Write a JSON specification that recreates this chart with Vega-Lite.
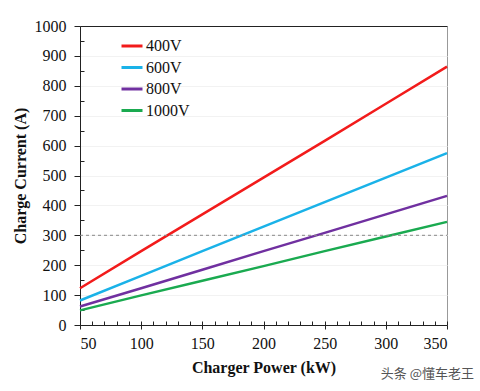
{
  "$schema": "https://vega.github.io/schema/vega-lite/v6.json",
  "width": 367,
  "height": 299,
  "autosize": {"type": "none"},
  "padding": {"left": 80, "top": 26, "right": 33, "bottom": 66},
  "background": "white",
  "config": {"view": {"stroke": "#999", "strokeWidth": 1}, "font": "Liberation Serif", "axis": {"labelFont": "Liberation Serif", "titleFont": "Liberation Serif"}, "legend": {"labelFont": "Liberation Serif"}},
  "title": {"text": "头条 @懂车老王", "orient": "bottom", "anchor": "end", "font": "Noto Sans CJK SC", "fontSize": 13, "fontWeight": "normal", "color": "#555", "dx": 22, "dy": -11},
  "datasets": {
    "lines": [
      {"power": 50, "current": 123, "voltage": "400V"},
      {"power": 100, "current": 247, "voltage": "400V"},
      {"power": 150, "current": 370, "voltage": "400V"},
      {"power": 200, "current": 493, "voltage": "400V"},
      {"power": 250, "current": 616, "voltage": "400V"},
      {"power": 300, "current": 740, "voltage": "400V"},
      {"power": 350, "current": 864, "voltage": "400V"},
      {"power": 50, "current": 82, "voltage": "600V"},
      {"power": 100, "current": 164, "voltage": "600V"},
      {"power": 150, "current": 247, "voltage": "600V"},
      {"power": 200, "current": 329, "voltage": "600V"},
      {"power": 250, "current": 411, "voltage": "600V"},
      {"power": 300, "current": 493, "voltage": "600V"},
      {"power": 350, "current": 575, "voltage": "600V"},
      {"power": 50, "current": 62, "voltage": "800V"},
      {"power": 100, "current": 123, "voltage": "800V"},
      {"power": 150, "current": 185, "voltage": "800V"},
      {"power": 200, "current": 247, "voltage": "800V"},
      {"power": 250, "current": 308, "voltage": "800V"},
      {"power": 300, "current": 370, "voltage": "800V"},
      {"power": 350, "current": 432, "voltage": "800V"},
      {"power": 50, "current": 49, "voltage": "1000V"},
      {"power": 100, "current": 99, "voltage": "1000V"},
      {"power": 150, "current": 148, "voltage": "1000V"},
      {"power": 200, "current": 197, "voltage": "1000V"},
      {"power": 250, "current": 247, "voltage": "1000V"},
      {"power": 300, "current": 296, "voltage": "1000V"},
      {"power": 350, "current": 345, "voltage": "1000V"}
    ],
    "ref": [{"p0": 50, "p1": 350, "a": 300}]
  },
  "layer": [
    {
      "data": {"name": "lines"},
      "mark": {"type": "line", "strokeWidth": 2.5},
      "encoding": {
        "x": {
          "field": "power", "type": "quantitative",
          "scale": {"domain": [50, 350], "nice": false, "zero": false},
          "axis": {"orient": "bottom", "values": [50, 100, 150, 200, 250, 300, 350], "format": "d", "tickSize": 4, "labelPadding": 6, "labelFont": "Liberation Serif", "labelFontSize": 16, "labelColor": "#111", "domainColor": "#222", "tickColor": "#222", "grid": false, "title": "Charger  Power (kW)", "titleFont": "Liberation Serif", "titleFontSize": 16, "titleFontWeight": "bold", "titleColor": "#111", "titlePadding": 8}
        },
        "y": {
          "field": "current", "type": "quantitative",
          "scale": {"domain": [0, 1000], "nice": false},
          "axis": {"orient": "left", "values": [0, 100, 200, 300, 400, 500, 600, 700, 800, 900, 1000], "format": "d", "tickSize": 6, "labelPadding": 8, "labelFont": "Liberation Serif", "labelFontSize": 16, "labelColor": "#111", "domainColor": "#222", "tickColor": "#222", "grid": true, "gridColor": "#f2f2f2", "title": "Charge  Current  (A)", "titleFont": "Liberation Serif", "titleFontSize": 16, "titleFontWeight": "bold", "titleColor": "#111", "titlePadding": 6}
        },
        "color": {
          "field": "voltage", "type": "nominal",
          "scale": {"domain": ["400V", "600V", "800V", "1000V"], "range": ["#f21b1b", "#1ab2e8", "#7030a0", "#1aaa50"]},
          "legend": {"orient": "none", "legendX": 40, "legendY": 8, "title": null, "padding": 0, "symbolType": "stroke", "symbolSize": 441, "symbolStrokeWidth": 3, "labelFontSize": 16, "labelFont": "Liberation Serif", "labelOffset": 2, "rowPadding": 1.5, "labelColor": "#111"}
        }
      }
    },
    {
      "data": {"name": "ref"},
      "mark": {"type": "rule", "strokeDash": [3, 3], "color": "#888", "strokeWidth": 1},
      "encoding": {
        "x": {"field": "p0", "type": "quantitative", "axis": {"orient": "bottom", "values": [50, 60, 70, 80, 90, 100, 110, 120, 130, 140, 150, 160, 170, 180, 190, 200, 210, 220, 230, 240, 250, 260, 270, 280, 290, 300, 310, 320, 330, 340, 350], "tickSize": -4, "tickColor": "#222", "labels": false, "domain": false, "grid": false, "title": null}},
        "x2": {"field": "p1"},
        "y": {"field": "a", "type": "quantitative", "axis": {"orient": "left", "values": [50, 150, 250, 350, 450, 550, 650, 750, 850, 950], "tickSize": -4, "tickColor": "#222", "labels": false, "domain": false, "grid": false, "title": null}}
      }
    },
    {
      "data": {"name": "ref"},
      "mark": {"type": "rule", "opacity": 0},
      "encoding": {
        "x": {"field": "p0", "type": "quantitative", "axis": {"orient": "top", "labels": false, "ticks": false, "domainColor": "#222", "grid": false, "title": null}},
        "x2": {"field": "p1"},
        "y": {"field": "a", "type": "quantitative", "axis": null}
      }
    }
  ],
  "resolve": {"axis": {"x": "independent", "y": "independent"}}
}
